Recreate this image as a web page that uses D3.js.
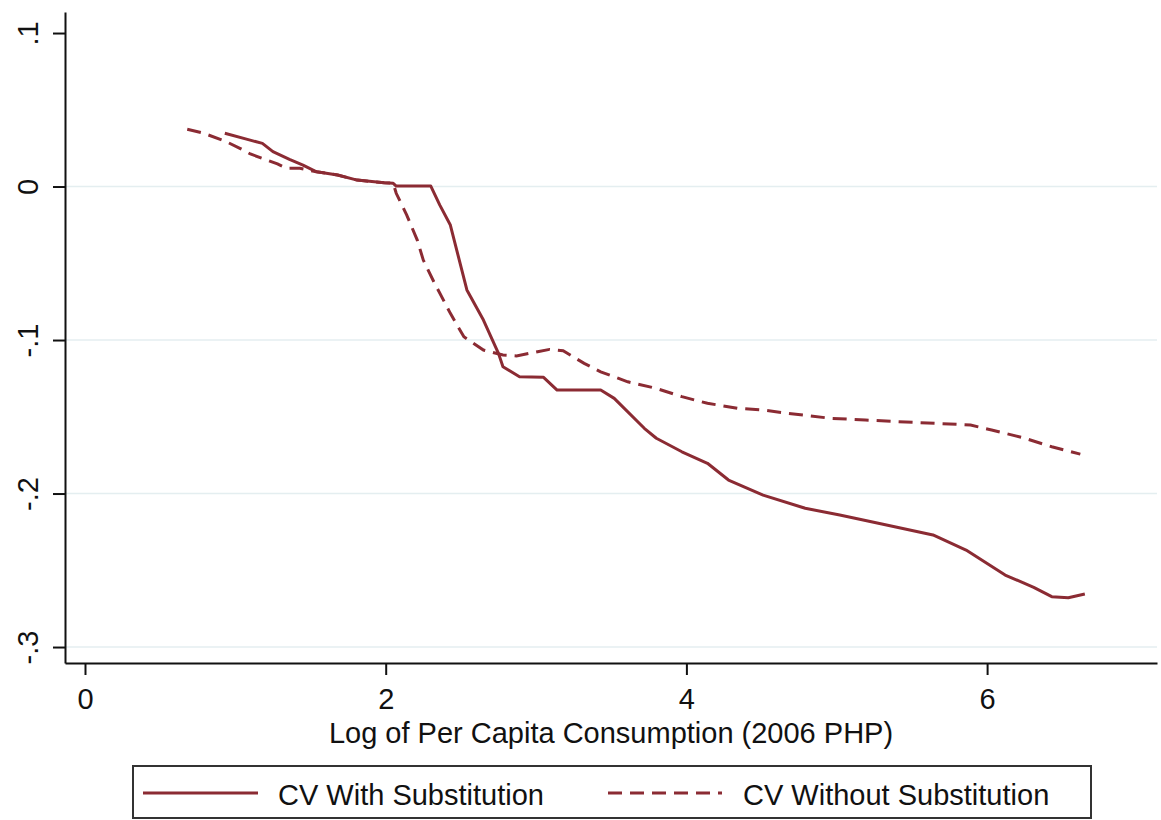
<!DOCTYPE html>
<html>
<head>
<meta charset="utf-8">
<script src="https://cdn.jsdelivr.net/npm/d3@7"></script>
<style>
  body { margin: 0; background: #fff; }
  svg { display: block; font-family: "Liberation Sans", Arial, sans-serif; }
</style>
</head>
<body>
<div id="chart"></div>
<script>
// log per capita consumption (x) and CV values
var withX = [0.93, 1.08, 1.18, 1.25, 1.36, 1.45, 1.54, 1.68, 1.81, 1.99, 2.05, 2.07, 2.30, 2.36, 2.43,
    2.54, 2.65, 2.75, 2.78, 2.89, 3.05, 3.14, 3.43, 3.52, 3.72, 3.80, 3.97, 4.14, 4.28, 4.51,
    4.79, 5.02, 5.30, 5.64, 5.86, 6.12, 6.31, 6.43, 6.54, 6.65];
var withY = [0.0347, 0.0307, 0.0281, 0.0227, 0.0177, 0.0140, 0.0096, 0.0075, 0.0042, 0.0025, 0.0021, 0.0003, 0.0003, -0.0121, -0.0251,
    -0.0674, -0.0870, -0.1087, -0.1174, -0.1239, -0.1243, -0.1326, -0.1326, -0.1380, -0.1575, -0.1640, -0.1728, -0.1803, -0.1912, -0.2010,
    -0.2096, -0.2140, -0.2199, -0.2270, -0.2368, -0.2531, -0.2611, -0.2672, -0.2679, -0.2655];

var withoutX = [0.68, 0.79, 0.94, 1.03, 1.10, 1.21, 1.28, 1.34, 1.43, 1.54, 1.68, 1.81, 1.99, 2.05, 2.07,
    2.14, 2.21, 2.25, 2.32, 2.43, 2.52, 2.65, 2.78, 2.87, 3.01, 3.09, 3.18, 3.32, 3.43, 3.61,
    3.80, 3.97, 4.14, 4.34, 4.51, 4.68, 4.96, 5.19, 5.41, 5.75, 5.89, 6.03, 6.23, 6.43, 6.62];
var withoutY = [0.0373, 0.0347, 0.0292, 0.0249, 0.0212, 0.0173, 0.0147, 0.0119, 0.0119, 0.0096, 0.0075, 0.0042, 0.0025, 0.0021, -0.0044,
    -0.0186, -0.0349, -0.0479, -0.0620, -0.0826, -0.0979, -0.1065, -0.1098, -0.1104, -0.1076, -0.1061, -0.1070, -0.1152, -0.1207, -0.1272,
    -0.1315, -0.1369, -0.1412, -0.1445, -0.1456, -0.1478, -0.1510, -0.1521, -0.1532, -0.1547, -0.1554, -0.1586, -0.1634, -0.1695, -0.1743];

var xTicks = [0, 2, 4, 6];
var yTicks = [0.1, 0, -0.1, -0.2, -0.3];
var yTickLabels = [".1", "0", "-.1", "-.2", "-.3"];
var gridTicks = [0, -0.1, -0.2, -0.3];

var seriesNames = ["CV With Substitution", "CV Without Substitution"];
var xTitle = "Log of Per Capita Consumption (2006 PHP)";

var width = 1161, height = 820;
var lineColor = "#8b2b33";
var fontSize = 29;

var svg = d3.select("#chart").append("svg")
    .attr("width", width)
    .attr("height", height);

var x = d3.scaleLinear().domain([-0.133, 7.13]).range([65, 1157]);
var y = d3.scaleLinear().domain([-0.3104, 0.1137]).range([663, 12]);

// gridlines
svg.append("g").selectAll("line")
    .data(gridTicks).enter().append("line")
    .attr("x1", x.range()[0])
    .attr("x2", x.range()[1])
    .attr("y1", function(d) { return y(d); })
    .attr("y2", function(d) { return y(d); })
    .attr("stroke", "#e4eef0")
    .attr("stroke-width", 1.5);

// y axis
var yAxis = svg.append("g")
    .attr("transform", "translate(" + x.range()[0] + ",0)")
    .call(d3.axisLeft(y)
        .tickValues(yTicks)
        .tickSize(12)
        .tickSizeOuter(0)
        .tickFormat(function(d, i) { return yTickLabels[i]; }));

yAxis.selectAll(".tick text")
    .attr("transform", "rotate(-90)")
    .attr("x", 0)
    .attr("y", -27)
    .attr("dy", 0)
    .attr("text-anchor", "middle");

// x axis
var xAxis = svg.append("g")
    .attr("transform", "translate(0," + y.range()[0] + ")")
    .call(d3.axisBottom(x)
        .tickValues(xTicks)
        .tickSize(12)
        .tickPadding(13)
        .tickSizeOuter(0)
        .tickFormat(d3.format("d")));

svg.selectAll(".domain").attr("stroke", "#111").attr("stroke-width", 2);
svg.selectAll(".tick line").attr("stroke", "#111").attr("stroke-width", 2);
svg.selectAll(".tick text")
    .attr("fill", "#111")
    .style("font-size", fontSize + "px")
    .style("font-family", "'Liberation Sans', Arial, sans-serif");

// axis title
svg.append("text")
    .attr("x", (x.range()[0] + x.range()[1]) / 2)
    .attr("y", 743)
    .attr("text-anchor", "middle")
    .attr("fill", "#111")
    .style("font-size", fontSize + "px")
    .text(xTitle);

// lines
var line = d3.line()
    .x(function(d) { return x(d[0]); })
    .y(function(d) { return y(d[1]); });

var withData = d3.zip(withX, withY);
var withoutData = d3.zip(withoutX, withoutY);

svg.append("path")
    .datum(withData)
    .attr("d", line)
    .attr("fill", "none")
    .attr("stroke", lineColor)
    .attr("stroke-width", 3)
    .attr("stroke-linejoin", "round");

svg.append("path")
    .datum(withoutData)
    .attr("d", line)
    .attr("fill", "none")
    .attr("stroke", lineColor)
    .attr("stroke-width", 3)
    .attr("stroke-dasharray", "14,8");

// legend
var legend = svg.append("g");
legend.append("rect")
    .attr("x", 133)
    .attr("y", 766)
    .attr("width", 958)
    .attr("height", 52)
    .attr("fill", "#fff")
    .attr("stroke", "#333")
    .attr("stroke-width", 2);

var keys = [
    { name: seriesNames[0], x0: 143, x1: 258, tx: 278, dash: null },
    { name: seriesNames[1], x0: 608, x1: 722, tx: 743, dash: "14,8" }
];

keys.forEach(function(k) {
    legend.append("line")
        .attr("x1", k.x0)
        .attr("x2", k.x1)
        .attr("y1", 793)
        .attr("y2", 793)
        .attr("stroke", lineColor)
        .attr("stroke-width", 3)
        .attr("stroke-dasharray", k.dash);
    legend.append("text")
        .attr("x", k.tx)
        .attr("y", 805)
        .attr("fill", "#111")
        .style("font-size", fontSize + "px")
        .text(k.name);
});
</script>
</body>
</html>
